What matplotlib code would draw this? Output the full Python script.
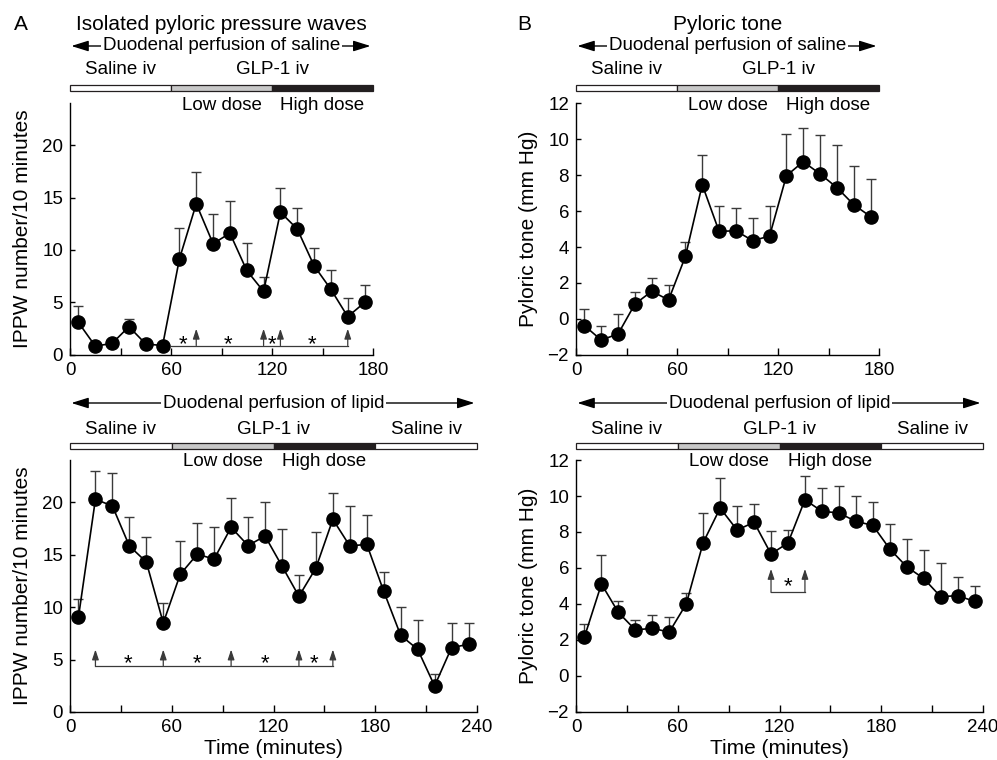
import matplotlib
matplotlib.use('Agg')
import matplotlib.pyplot as plt
import matplotlib.transforms as mtransforms
from matplotlib.patches import Rectangle
from matplotlib.ticker import FixedLocator

plt.rcParams['font.family'] = ['Liberation Sans', 'DejaVu Sans']

# ---------------- data ----------------
time_saline = [5, 15, 25, 35, 45, 55, 65, 75, 85, 95, 105, 115, 125, 135, 145, 155, 165, 175]
time_lipid = [5, 15, 25, 35, 45, 55, 65, 75, 85, 95, 105, 115, 125, 135, 145, 155, 165, 175,
              185, 195, 205, 215, 225, 235]

ippw_saline = [3.1, 0.85, 1.1, 2.7, 1.05, 0.9, 9.15, 14.4, 10.6, 11.6, 8.05, 6.05,
               13.6, 12.0, 8.5, 6.25, 3.65, 5.0]
ippw_saline_sem = [1.55, 0.3, 0.3, 0.7, 0.3, 0.3, 2.95, 3.0, 2.8, 3.1, 2.65, 1.35,
                   2.3, 2.0, 1.7, 1.85, 1.8, 1.65]

tone_saline = [-0.37, -1.17, -0.83, 0.83, 1.54, 1.06, 3.48, 7.46, 4.87, 4.9, 4.35, 4.61,
               7.96, 8.74, 8.06, 7.3, 6.35, 5.69]
tone_saline_sem = [0.92, 0.77, 1.08, 0.67, 0.76, 0.84, 0.82, 1.64, 1.43, 1.25, 1.25, 1.64,
                   2.34, 1.86, 2.14, 2.35, 2.15, 2.11]

ippw_lipid = [9.05, 20.26, 19.62, 15.81, 14.29, 8.48, 13.11, 15.02, 14.57, 17.59, 15.85, 16.76,
              13.9, 11.02, 13.71, 18.35, 15.81, 15.97, 11.5, 7.3, 5.97, 2.48, 6.13, 6.45]
ippw_lipid_sem = [1.68, 2.69, 3.14, 2.76, 2.38, 1.94, 3.21, 3.02, 3.09, 2.79, 2.76, 3.28,
                  3.5, 2.0, 3.43, 2.48, 3.81, 2.76, 1.83, 2.7, 2.76, 1.18, 2.35, 2.03]

tone_lipid = [2.17, 5.11, 3.53, 2.56, 2.65, 2.44, 4.0, 7.41, 9.33, 8.11, 8.54, 6.78,
              7.39, 9.79, 9.15, 9.06, 8.59, 8.37, 7.06, 6.07, 5.42, 4.41, 4.46, 4.15]
tone_lipid_sem = [0.72, 1.59, 0.62, 0.57, 0.76, 0.84, 0.61, 1.65, 1.65, 1.35, 0.99, 1.25,
                  0.74, 1.34, 1.27, 1.5, 1.39, 1.31, 1.36, 1.52, 1.56, 1.89, 1.04, 0.83]

# significance brackets
sig_ippw_saline = dict(level=0.9, start=60, end=165, tip=2.5,
                       arrows=[75, 115, 125, 165], stars=[67, 94, 120, 144], star_y=1.6)
sig_ippw_lipid = dict(level=4.4, start=15, end=155, tip=5.95,
                      arrows=[15, 55, 95, 135, 155], stars=[34, 75, 115, 144], star_y=5.2)
sig_tone_lipid = dict(level=4.65, start=115, end=135, tip=5.95,
                      arrows=[115, 135], stars=[125], star_y=5.3)

# treatment periods
periods_saline = [(0, 60, 'white'), (60, 120, '#c8c8c8'), (120, 180, '#231f20')]
periods_lipid = [(0, 60, 'white'), (60, 120, '#c8c8c8'), (120, 180, '#231f20'), (180, 240, 'white')]
iv_labels_saline = [(30, 'Saline iv'), (120, 'GLP-1 iv')]
iv_labels_lipid = [(30, 'Saline iv'), (120, 'GLP-1 iv'), (210, 'Saline iv')]
dose_labels = [(90, 'Low dose'), (150, 'High dose')]

# ---------------- figure ----------------
W, H = 997, 760
fig = plt.figure(figsize=(W / 100, H / 100), dpi=100)


def add_ax(left, right, top, bottom):
    return fig.add_axes([left / W, 1 - bottom / H, (right - left) / W, (bottom - top) / H])


def fy(p):
    return 1 - p / H


FS_TICK = 13.5
FS_ANN = 13.5
FS_LAB = 15


def style(ax, xmax, ylim, yticks, ylabel, xlabel=None):
    ax.set_xlim(0, xmax)
    ax.set_ylim(*ylim)
    for s in ('top', 'right'):
        ax.spines[s].set_visible(False)
    for s in ('left', 'bottom'):
        ax.spines[s].set_linewidth(1.0)
    ax.xaxis.set_major_locator(FixedLocator(list(range(0, xmax + 1, 60))))
    ax.xaxis.set_minor_locator(FixedLocator(list(range(30, xmax, 60))))
    ax.yaxis.set_major_locator(FixedLocator(yticks))
    ax.tick_params(axis='x', which='both', direction='in', length=5, width=1.0,
                   labelsize=FS_TICK, pad=5)
    ax.tick_params(axis='y', which='both', direction='in', length=3.5, width=1.0,
                   labelsize=FS_TICK, pad=5)
    ax.set_ylabel(ylabel, fontsize=FS_LAB)
    if xlabel:
        ax.set_xlabel(xlabel, fontsize=FS_LAB)


def draw_series(ax, x, y, sem):
    ax.errorbar(x, y, yerr=[[0] * len(sem), sem], fmt='none', ecolor='#3a3a3a',
                elinewidth=1.0, capsize=3.6, capthick=1.0, zorder=2)
    ax.plot(x, y, '-o', color='black', lw=1.2, ms=9.5, zorder=3)


def draw_sig(ax, sig):
    ax.plot([sig['start'], sig['end']], [sig['level'], sig['level']], color='#3a3a3a',
            lw=0.9, zorder=1)
    for xa in sig['arrows']:
        ax.annotate('', xy=(xa, sig['tip']), xytext=(xa, sig['level']),
                    arrowprops=dict(arrowstyle='-|>,head_length=0.6,head_width=0.2',
                                    color='#3a3a3a', lw=0.9, mutation_scale=10,
                                    shrinkA=0, shrinkB=0))
    for xs in sig['stars']:
        ax.annotate('*', xy=(xs, sig['star_y']), xytext=(0, -4.5),
                    textcoords='offset points', ha='center', va='center', fontsize=16)


def draw_header(ax, xmax, periods, iv_labels, arrow_y, arrow_text, arrow_text_x,
                iv_y, bar_y, dose_y, title=None, title_y=None):
    tr = mtransforms.blended_transform_factory(ax.transData, fig.transFigure)
    ax.annotate('', xy=(0.8, fy(arrow_y)), xytext=(xmax - 1.5, fy(arrow_y)),
                xycoords=tr, textcoords=tr, annotation_clip=False,
                arrowprops=dict(arrowstyle='<|-|>,head_length=0.8,head_width=0.25',
                                color='black', lw=1.0, mutation_scale=13,
                                shrinkA=0, shrinkB=0))
    ax.text(arrow_text_x, fy(arrow_y), arrow_text, transform=tr, ha='center', va='center',
            fontsize=FS_ANN, clip_on=False,
            bbox=dict(facecolor='white', edgecolor='none', pad=1.2))
    bh = 6
    for x0, x1, c in periods:
        ax.add_patch(Rectangle((x0, fy(bar_y + bh / 2)), x1 - x0, bh / H, transform=tr,
                               facecolor=c, edgecolor='#231f20', lw=0.9, clip_on=False))
    for xl, t in iv_labels:
        ax.text(xl, fy(iv_y), t, transform=tr, ha='center', va='center',
                fontsize=FS_ANN, clip_on=False)
    for xl, t in dose_labels:
        ax.text(xl, fy(dose_y), t, transform=tr, ha='center', va='center',
                fontsize=FS_ANN, clip_on=False)
    if title:
        ax.text(xmax / 2, fy(title_y), title, transform=tr, ha='center', va='center',
                fontsize=FS_LAB, clip_on=False)


ax_tl = add_ax(70, 373, 103, 355)
ax_tr = add_ax(576, 879, 103, 355)
ax_bl = add_ax(70, 477, 460, 712)
ax_br = add_ax(576, 983, 460, 712)

draw_series(ax_tl, time_saline, ippw_saline, ippw_saline_sem)
draw_sig(ax_tl, sig_ippw_saline)
draw_header(ax_tl, 180, periods_saline, iv_labels_saline, 46,
            'Duodenal perfusion of saline', 90, 70, 88, 105,
            title='Isolated pyloric pressure waves', title_y=25)
style(ax_tl, 180, (0, 24), [0, 5, 10, 15, 20], 'IPPW number/10 minutes')

draw_series(ax_tr, time_saline, tone_saline, tone_saline_sem)
draw_header(ax_tr, 180, periods_saline, iv_labels_saline, 46,
            'Duodenal perfusion of saline', 90, 70, 88, 105,
            title='Pyloric tone', title_y=25)
style(ax_tr, 180, (-2, 12), [-2, 0, 2, 4, 6, 8, 10, 12], 'Pyloric tone (mm Hg)')

draw_series(ax_bl, time_lipid, ippw_lipid, ippw_lipid_sem)
draw_sig(ax_bl, sig_ippw_lipid)
draw_header(ax_bl, 240, periods_lipid, iv_labels_lipid, 403,
            'Duodenal perfusion of lipid', 120, 430, 445.5, 462)
style(ax_bl, 240, (0, 24), [0, 5, 10, 15, 20], 'IPPW number/10 minutes',
      'Time (minutes)')

draw_series(ax_br, time_lipid, tone_lipid, tone_lipid_sem)
draw_sig(ax_br, sig_tone_lipid)
draw_header(ax_br, 240, periods_lipid, iv_labels_lipid, 403,
            'Duodenal perfusion of lipid', 120, 430, 445.5, 462)
style(ax_br, 240, (-2, 12), [-2, 0, 2, 4, 6, 8, 10, 12], 'Pyloric tone (mm Hg)',
      'Time (minutes)')

for ax, lx, w, left in ((ax_tl, 22, 303, 70), (ax_bl, 22, 407, 70),
                        (ax_tr, 528, 303, 576), (ax_br, 528, 407, 576)):
    ax.yaxis.set_label_coords((lx - left) / w, 0.5)
    ax.yaxis.label.set_verticalalignment('center')
for ax in (ax_bl, ax_br):
    ax.xaxis.set_label_coords(0.5, -(749 - 712) / 252)
    ax.xaxis.label.set_verticalalignment('center')

fig.text(21 / W, fy(25), 'A', fontsize=FS_LAB, ha='center', va='center')
fig.text(524 / W, fy(25), 'B', fontsize=FS_LAB, ha='center', va='center')

fig.savefig('out.png', dpi=100)
